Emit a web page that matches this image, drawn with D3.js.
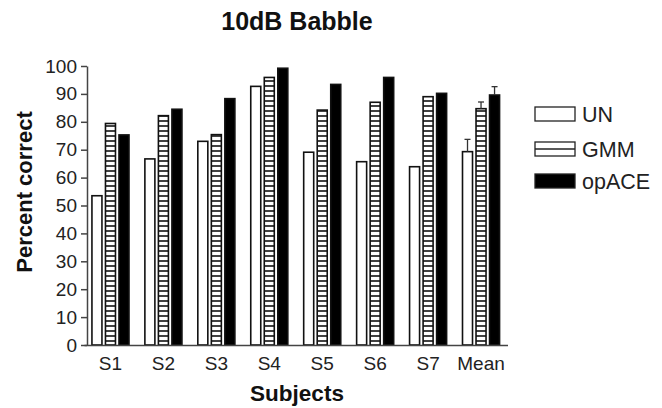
<!DOCTYPE html>
<html>
<head>
<meta charset="utf-8">
<script src="https://cdn.jsdelivr.net/npm/d3@7.9.0/dist/d3.min.js"></script>
<style>
  body { margin: 0; background: #fff; }
  svg { font-family: "Liberation Sans", Arial, Helvetica, sans-serif; display: block; }
  .y-axis path, .y-axis line, .x-axis path { stroke: #444; stroke-width: 1.5; }
  .tick text { fill: #222; }
</style>
</head>
<body>
<svg id="chart" width="662" height="408"></svg>
<script>
const subjects = ['S1', 'S2', 'S3', 'S4', 'S5', 'S6', 'S7', 'Mean'];
const series = ['UN', 'GMM', 'opACE'];
const unVals    = [53.5, 66.7, 73.0, 92.7, 69.1, 65.7, 63.9, 69.3];
const gmmVals   = [79.4, 82.2, 75.4, 95.9, 84.2, 87.0, 89.0, 84.7];
const opaceVals = [75.3, 84.5, 88.3, 99.2, 93.4, 95.9, 90.2, 89.6];
// error bar tops, only for the Mean group
const meanErrTop = [73.7, 87.1, 92.6];
const yTicks = [0, 10, 20, 30, 40, 50, 60, 70, 80, 90, 100];

const valsBySeries = { UN: unVals, GMM: gmmVals, opACE: opaceVals };
const rows = subjects.flatMap((s, i) =>
  series.map(k => ({ subject: s, key: k, value: valsBySeries[k][i] })));

const svg = d3.select('#chart');

const defs = svg.append('defs');
const pat = defs.append('pattern')
  .attr('id', 'hatch')
  .attr('patternUnits', 'userSpaceOnUse')
  .attr('width', 20).attr('height', 5);
pat.append('rect').attr('width', 20).attr('height', 5).attr('fill', '#fff');
pat.append('line')
  .attr('x1', 0).attr('x2', 20).attr('y1', 1).attr('y2', 1)
  .attr('stroke', '#111').attr('stroke-width', 1.6);

const x0 = d3.scaleBand().domain(subjects).range([84, 507.5])
  .paddingInner(0.3).paddingOuter(0.15);
const x1 = d3.scaleBand().domain(series).range([0, x0.bandwidth()])
  .paddingInner(0.26);
const y = d3.scaleLinear().domain([0, 100]).range([345, 66]);

const fill = { UN: '#fff', GMM: 'url(#hatch)', opACE: '#000' };

// bars
svg.append('g').attr('class', 'bars')
  .selectAll('rect')
  .data(rows)
  .join('rect')
    .attr('x', d => x0(d.subject) + x1(d.key))
    .attr('y', d => y(d.value))
    .attr('width', x1.bandwidth())
    .attr('height', d => y(0) - y(d.value))
    .attr('fill', d => fill[d.key])
    .attr('stroke', '#111')
    .attr('stroke-width', 1.6);

// error bars on Mean
const errG = svg.append('g').attr('class', 'err');
series.forEach((k, i) => {
  const cx = x0('Mean') + x1(k) + x1.bandwidth() / 2;
  const v = valsBySeries[k][subjects.indexOf('Mean')];
  errG.append('line')
    .attr('x1', cx).attr('x2', cx)
    .attr('y1', y(v)).attr('y2', y(meanErrTop[i]))
    .attr('stroke', '#333').attr('stroke-width', 1.3);
  errG.append('line')
    .attr('x1', cx - 3).attr('x2', cx + 3)
    .attr('y1', y(meanErrTop[i])).attr('y2', y(meanErrTop[i]))
    .attr('stroke', '#333').attr('stroke-width', 1.3);
});

// axes
svg.append('g')
  .attr('class', 'y-axis')
  .attr('transform', 'translate(87,0)')
  .call(d3.axisLeft(y).tickValues(yTicks).tickSize(6).tickPadding(4).tickSizeOuter(0))
  .call(g => g.selectAll('text').style('font-size', '19px'));

svg.append('g')
  .attr('class', 'x-axis')
  .attr('transform', `translate(0,${y(0)})`)
  .call(d3.axisBottom(x0).tickSize(0).tickPadding(12).tickSizeOuter(0))
  .call(g => g.selectAll('text').style('font-size', '19px'));

// titles
svg.append('text')
  .attr('x', 297).attr('y', 30)
  .attr('text-anchor', 'middle')
  .style('font-size', '25px').style('font-weight', 'bold')
  .attr('fill', '#111')
  .text('10dB Babble');

svg.append('text')
  .attr('x', 297).attr('y', 401)
  .attr('text-anchor', 'middle')
  .style('font-size', '22.5px').style('font-weight', 'bold')
  .attr('fill', '#111')
  .text('Subjects');

svg.append('text')
  .attr('transform', 'translate(32,192) rotate(-90)')
  .attr('text-anchor', 'middle')
  .style('font-size', '22px').style('font-weight', 'bold')
  .attr('fill', '#111')
  .text('Percent correct');

// legend
const legend = svg.append('g').attr('class', 'legend');
const legendY = [107, 142, 174];
series.forEach((k, i) => {
  const g = legend.append('g').attr('transform', `translate(535,${legendY[i]})`);
  g.append('rect')
    .attr('width', 40).attr('height', 14)
    .attr('fill', k === 'opACE' ? '#000' : '#fff')
    .attr('stroke', '#222').attr('stroke-width', 1.3);
  if (k === 'GMM') {
    g.append('line').attr('x1', 0).attr('x2', 40).attr('y1', 7).attr('y2', 7)
      .attr('stroke', '#222').attr('stroke-width', 1.3);
  }
  g.append('text')
    .attr('x', 47).attr('y', 14.8)
    .style('font-size', '21.5px')
    .attr('fill', '#222')
    .text(k);
});
</script>
</body>
</html>
